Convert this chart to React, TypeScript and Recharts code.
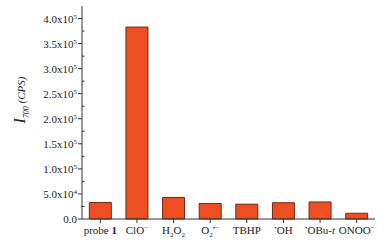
import { BarChart, Bar, XAxis, YAxis } from "recharts";

const categories = ["probe 1", "ClO-", "H2O2", "O2•-", "TBHP", "•OH", "•OBu-t", "ONOO-"];
const intensity = [33000, 383000, 43000, 31000, 29500, 32500, 34000, 11500];
const yTicks = [
  0, 25000, 50000, 75000, 100000, 125000, 150000, 175000, 200000, 225000,
  250000, 275000, 300000, 325000, 350000, 375000, 400000,
];

const data = categories.map((name, i) => ({ name, value: intensity[i] }));

const FONT = "'Liberation Serif', 'Times New Roman', serif";

// label pieces: [text, style] ; style: n = normal, sub, sup, i = italic
const labelParts: Record<string, [string, string][]> = {
  "probe 1": [["probe ", "n"], ["1", "b"]],
  "ClO-": [["ClO", "n"], ["\u2212", "sup"]],
  H2O2: [["H", "n"], ["2", "sub"], ["O", "n"], ["2", "sub"]],
  "O2•-": [["O", "n"], ["2", "sub"], ["\u2022\u2212", "sup2"]],
  TBHP: [["TBHP", "n"]],
  "•OH": [["\u2022", "sup"], ["OH", "n"]],
  "•OBu-t": [["\u2022", "sup"], ["OBu-", "n"], ["t", "i"]],
  "ONOO-": [["ONOO", "n"], ["\u2212", "sup"]],
};

const XTick = (props: any) => {
  const { x, y, payload } = props;
  const parts = labelParts[payload.value] || [[payload.value, "n"]];
  let shift = 0;
  return (
    <g>
      <line x1={x} y1={y} x2={x} y2={y + 4} stroke="#333" />
      <text x={x} y={y + 15} textAnchor="middle" fontFamily={FONT} fontSize={11} fill="#222">
        {parts.map(([t, k], i) => {
          let target = 0;
          if (k === "sub") target = 3;
          if (k === "sup" || k === "sup2") target = -4;
          const dy = target - shift;
          shift = target;
          const small = k === "sub" || k === "sup" || k === "sup2";
          return (
            <tspan
              key={i}
              dy={dy}
              fontSize={small ? 7 : 11}
              fontStyle={k === "i" ? "italic" : "normal"}
              fontWeight={k === "b" ? "bold" : "normal"}
            >
              {t}
            </tspan>
          );
        })}
      </text>
    </g>
  );
};

const YTick = (props: any) => {
  const { x, y, payload } = props;
  const v = payload.value as number;
  if (v % 50000 !== 0) {
    return <line x1={x} y1={y} x2={x + 2.5} y2={y} stroke="#333" />;
  }
  let label;
  if (v === 0) {
    label = <tspan>0.0</tspan>;
  } else {
    const exp = Math.floor(Math.log10(v));
    const mant = (v / Math.pow(10, exp)).toFixed(1);
    label = (
      <>
        <tspan>{mant}x10</tspan>
        <tspan dy={-4} fontSize={7}>{exp}</tspan>
      </>
    );
  }
  return (
    <g>
      <line x1={x - 4} y1={y} x2={x} y2={y} stroke="#333" />
      <text x={x - 5} y={y + 4} textAnchor="end" fontFamily={FONT} fontSize={11} fill="#222">
        {label}
      </text>
    </g>
  );
};

export default function App() {
  return (
    <div style={{ position: "absolute", left: 0, top: 0, width: 385, height: 247, background: "#fff" }}>
      <BarChart
        width={385}
        height={247}
        data={data}
        margin={{ top: 6, right: 10, bottom: 0, left: 0 }}
        barCategoryGap="20%"
      >
        <XAxis
          dataKey="name"
          height={28}
          tickSize={0}
          tickMargin={0}
          tickLine={false}
          axisLine={{ stroke: "#333" }}
          tick={<XTick />}
          interval={0}
        />
        <YAxis
          width={82}
          domain={[0, 425000]}
          ticks={yTicks}
          interval={0}
          tickSize={0}
          tickMargin={0}
          tickLine={false}
          axisLine={{ stroke: "#333" }}
          tick={<YTick />}
        />
        <Bar dataKey="value" fill="#EE4F22" stroke="#6a2a18" strokeWidth={1} isAnimationActive={false} />
        <text
          transform="translate(25,100) rotate(-90)"
          textAnchor="middle"
          fontFamily={FONT}
          fill="#222"
          fontStyle="italic"
        >
          <tspan fontSize={16}>I</tspan>
          <tspan fontSize={8} dy={4}>700</tspan>
          <tspan fontSize={11} dy={-4}> (CPS)</tspan>
        </text>
      </BarChart>
    </div>
  );
}
